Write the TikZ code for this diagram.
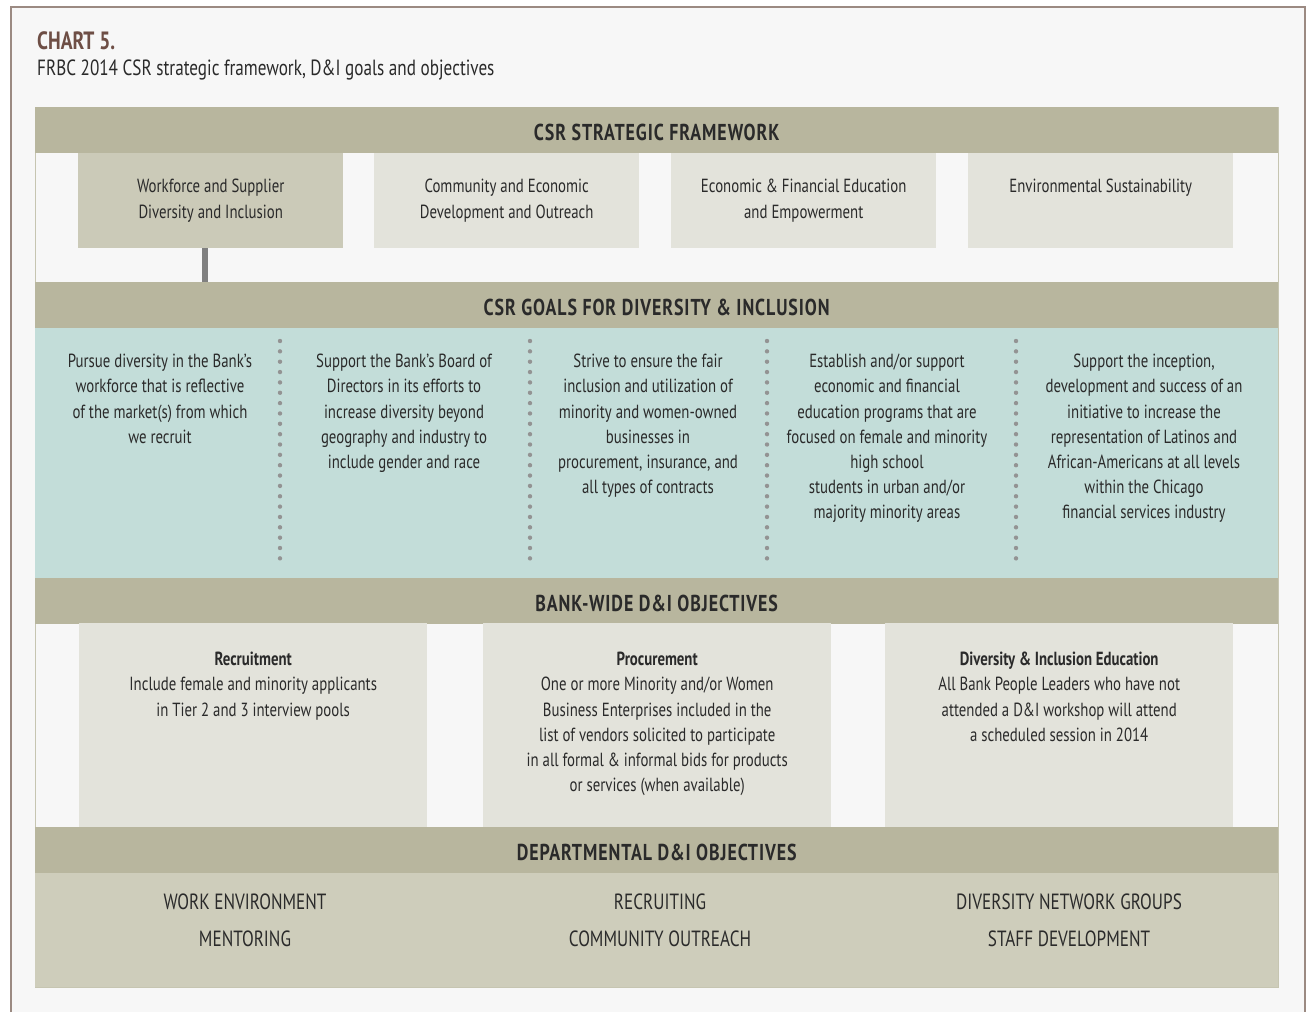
\documentclass[tikz,border=0pt]{standalone}
\usepackage{fontspec}
\setmainfont{PT Sans}[FakeStretch=0.78]
\usetikzlibrary{positioning}

\definecolor{bandc}{HTML}{B8B69E}
\definecolor{darkbox}{HTML}{CBCAB8}
\definecolor{lightbox}{HTML}{E3E3DB}
\definecolor{tealc}{HTML}{C3DDD9}
\definecolor{deptc}{HTML}{CECDBB}
\definecolor{bgc}{HTML}{F7F7F7}
\definecolor{textc}{HTML}{2A2A2A}
\definecolor{titlec}{HTML}{6E4E45}
\definecolor{framec}{HTML}{9B8A82}

\tikzset{
  band/.style={fill=bandc, minimum width=1243pt, minimum height=46pt, inner sep=0,
    anchor=north west, text=textc, text height=20pt, text depth=0pt,
    font=\fontsize{23}{26}\selectfont\bfseries\addfontfeatures{LetterSpace=4}},
  topbox/.style={minimum width=265pt, minimum height=95pt, inner sep=0, anchor=north west,
    align=center, font=\fontsize{19}{25.2}\selectfont, text=textc},
  objbox/.style={fill=lightbox, minimum width=348pt, minimum height=204pt, inner sep=0, anchor=north west},
  body/.style={align=center, inner sep=0, anchor=north, font=\fontsize{19}{25.2}\selectfont, text=textc},
  dept/.style={inner sep=0, font=\fontsize{22}{26}\selectfont, text=textc},
  dots/.style={draw=gray!85, line width=4.4pt, line cap=round, dash pattern=on 0pt off 10.35pt},
  conn/.style={draw=gray, line width=6pt}
}

\begin{document}
\begin{tikzpicture}[x=1pt,y=-1pt]
  \useasboundingbox (0,0) rectangle (1306,1012);
  \fill[bgc] (11,7) rectangle (1305,1012);
  \draw[framec, line width=1.5pt] (11,1012) -- (11,7) -- (1305,7) -- (1305,1012);

  % title
  \node[anchor=base west, inner sep=0, text=titlec, font=\fontsize{25}{28}\selectfont\bfseries] (chart) at (37,49) {CHART 5.};
  \node[anchor=base west, inner sep=0, text=textc, font=\fontsize{22}{26}\selectfont] (subtitle) at (37,75) {FRBC 2014 CSR strategic framework, D\&I goals and objectives};

  % panel
  \draw[bandc!80, line width=1pt] (35,107) rectangle (1278,987);

  % CSR strategic framework
  \node[band] (frameband) at (35,107) {CSR STRATEGIC FRAMEWORK};
  \node[topbox, fill=darkbox] (wsdi) at (78,153) {Workforce and Supplier\\Diversity and Inclusion};
  \node[topbox, fill=lightbox] (cedo) at (374,153) {Community and Economic\\Development and Outreach};
  \node[topbox, fill=lightbox] (efee) at (671,153) {Economic \& Financial Education\\and Empowerment};
  \node[topbox, fill=lightbox] (envs) at (968,153) {\raisebox{-2pt}{Environmental Sustainability}\\\strut};

  % goals
  \node[band] (goalband) at (35,282) {CSR GOALS FOR DIVERSITY \& INCLUSION};
  \fill[tealc] (35,328) rectangle (1278,578);
  \coordinate (cx) at (205,0);
  \draw[conn] (wsdi.south -| cx) -- (goalband.north -| cx);

  \node[body] (goal1) at (160,354) {Pursue diversity in the Bank’s\\workforce that is reflective\\of the market(s) from which\\we recruit};
  \node[body] (goal2) at (404,354) {Support the Bank’s Board of\\Directors in its efforts to\\increase diversity beyond\\geography and industry to\\include gender and race};
  \node[body] (goal3) at (648,354) {Strive to ensure the fair\\inclusion and utilization of\\minority and women-owned\\businesses in\\procurement, insurance, and\\all types of contracts};
  \node[body] (goal4) at (887,354) {Establish and/or support\\economic and financial\\education programs that are\\focused on female and minority\\high school\\students in urban and/or\\majority minority areas};
  \node[body] (goal5) at (1144,354) {Support the inception,\\development and success of an\\initiative to increase the\\representation of Latinos and\\African-Americans at all levels\\within the Chicago\\financial services industry};

  \foreach \sx in {280,530,767,1016}
    \draw[dots] (\sx,341) -- (\sx,563);

  % bank-wide objectives
  \node[band] (bankband) at (35,578) {BANK-WIDE D\&I OBJECTIVES};
  \node[objbox] (recbox) at (79,623) {};
  \node[objbox] (procbox) at (483,623) {};
  \node[objbox] (edubox) at (885,623) {};
  \node[body, below=29pt of recbox.north] (rec_text) {\textbf{Recruitment}\\Include female and minority applicants\\in Tier 2 and 3 interview pools};
  \node[body, below=29pt of procbox.north] (proc_text) {\textbf{Procurement}\\One or more Minority and/or Women\\Business Enterprises included in the\\list of vendors solicited to participate\\in all formal \& informal bids for products\\or services (when available)};
  \node[body, below=29pt of edubox.north] (edu_text) {\textbf{Diversity \& Inclusion Education}\\All Bank People Leaders who have not\\attended a D\&I workshop will attend\\a scheduled session in 2014};

  % departmental objectives
  \node[band] (deptband) at (35,827) {DEPARTMENTAL D\&I OBJECTIVES};
  \fill[deptc] (35,873) rectangle (1278,987);
  \node[dept] (workenv) at (245,902) {WORK ENVIRONMENT};
  \node[dept] (mentor) at (245,939) {MENTORING};
  \node[dept] (recruit) at (660,902) {RECRUITING};
  \node[dept] (commout) at (660,939) {COMMUNITY OUTREACH};
  \node[dept] (netgroups) at (1069,902) {DIVERSITY NETWORK GROUPS};
  \node[dept] (staffdev) at (1069,939) {STAFF DEVELOPMENT};
\end{tikzpicture}
\end{document}
